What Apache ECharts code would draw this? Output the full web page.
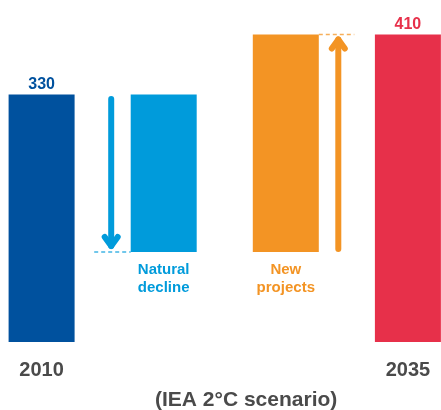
<!DOCTYPE html>
<html><head><meta charset="utf-8">
<script src="https://cdn.jsdelivr.net/npm/echarts@6/dist/echarts.min.js"></script>
<style>html,body{margin:0;padding:0;background:#fff}#c{width:441px;height:410px}</style>
</head><body><div id="c"></div>
<script>
// ---- data ----
const categories = ['2010', 'Natural decline', 'New projects', '2035'];
const steps = [330, -210, 290, 410];          // first & last are totals, middle are changes
const totalLabels = ['330', '', '', '410'];
const caption = '(IEA 2°C scenario)';
const colors = ['#00519e', '#009bdb', '#f39424', '#e7304a'];

// ---- derived waterfall ----
const base = [], height = [], arrows = [];
let level = 0;
steps.forEach((s, i) => {
  if (i === 0 || i === steps.length - 1) { base.push(0); height.push(s); level = s; }
  else {
    const from = level, to = level + s;
    base.push(Math.min(from, to)); height.push(Math.abs(s));
    arrows.push([i, from, to]);
    level = to;
  }
});

const FONT = '"Liberation Sans", Arial, Helvetica, sans-serif';
const chart = echarts.init(document.getElementById('c'), null, {renderer: 'canvas'});
chart.setOption({
  animation: false,
  grid: {left: 41.6, right: 33.1, top: 0, bottom: 68},
  xAxis: {
    type: 'category', data: categories, boundaryGap: false,
    axisLine: {show: false}, axisTick: {show: false}, splitLine: {show: false},
    axisLabel: {
      interval: 0, margin: 18, fontFamily: FONT, fontSize: 20, fontWeight: 'bold', color: '#4a4a4a',
      formatter: (v, i) => (i === 0 || i === categories.length - 1) ? v : ''
    }
  },
  yAxis: {type: 'value', min: 0, max: 456, show: false, splitLine: {show: false}},
  title: {
    text: caption, left: 150, top: 385,
    textStyle: {fontFamily: FONT, fontSize: 21, fontWeight: 'bold', color: '#4a4a4a'}
  },
  series: [
    {
      type: 'bar', stack: 'w', barWidth: 66, clip: false, silent: true,
      itemStyle: {color: 'transparent'}, data: base
    },
    {
      type: 'bar', stack: 'w', barWidth: 66, clip: false,
      data: height.map((h, i) => {
        const isTotal = i === 0 || i === categories.length - 1;
        return {
          value: h,
          itemStyle: {color: colors[i]},
          label: isTotal ? {
            show: true, position: 'top', distance: 1.5, formatter: totalLabels[i],
            fontFamily: FONT, fontSize: 16, fontWeight: 'bold', color: colors[i]
          } : {
            show: true, position: 'bottom', distance: 8.5,
            formatter: categories[i].replace(' ', '\n'),
            fontFamily: FONT, fontSize: 15, lineHeight: 18, fontWeight: 'bold', color: colors[i], align: 'center'
          }
        };
      })
    },
    {
      type: 'custom', clip: false, silent: true,
      data: arrows,
      renderItem(params, api) {
        const cat = api.value(0), from = api.value(1), to = api.value(2);
        const down = to < from;
        const p0 = api.coord([cat, from]), p1 = api.coord([cat, to]);
        const half = 33, gap = 19.5, w = 6;
        const col = colors[cat];
        const x = down ? p0[0] - half - gap : p0[0] + half + gap;
        const yStart = down ? p0[1] + 4.5 : p0[1] - 3;
        const yTip = down ? p1[1] - 6 : p1[1] + 5;
        const dir = down ? 1 : -1;
        const hw = 6.5, hh = 9;
        const dash = down
          ? [[x - 17, p1[1]], [p0[0] - half, p1[1]]]
          : [[p0[0] + half, p1[1]], [x + 16, p1[1]]];
        return {
          type: 'group',
          children: [
            {type: 'line', shape: {x1: dash[0][0], y1: dash[0][1], x2: dash[1][0], y2: dash[1][1]},
             style: {stroke: col, lineWidth: 1.5, lineDash: [4, 3], opacity: 0.75}},
            {type: 'line', shape: {x1: x, y1: yStart, x2: x, y2: yTip},
             style: {stroke: col, lineWidth: w, lineCap: 'round'}},
            {type: 'polyline', shape: {points: [[x - hw, yTip - dir * hh], [x, yTip], [x + hw, yTip - dir * hh]]},
             style: {stroke: col, fill: null, lineWidth: w, lineCap: 'round', lineJoin: 'round'}}
          ]
        };
      }
    }
  ]
});
</script>
</body></html>
